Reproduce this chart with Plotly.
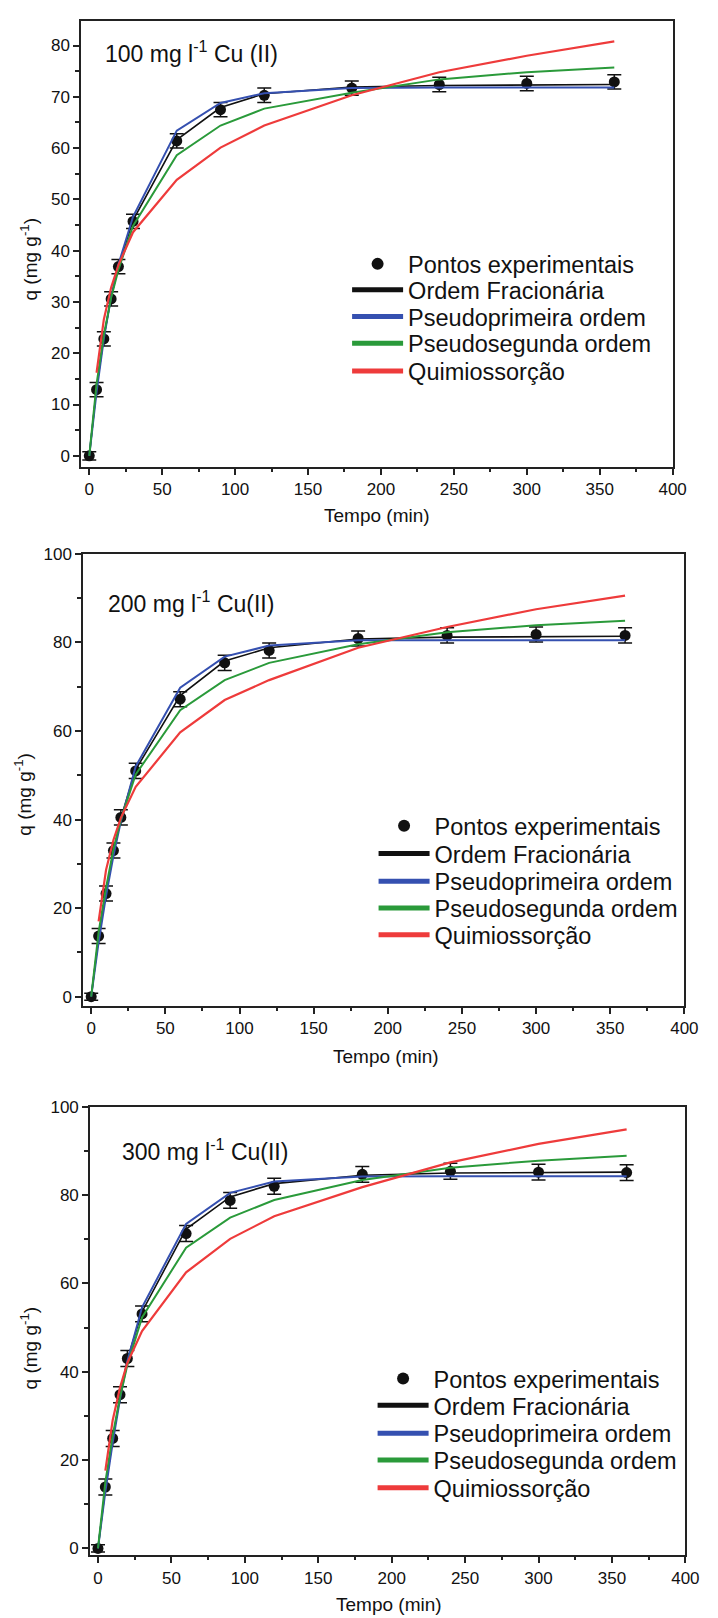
import plotly.graph_objects as go

# ---------------- data ----------------
tempo = [0, 5, 10, 15, 20, 30, 60, 90, 120, 180, 240, 300, 360]
tempo_quim = [5, 10, 15, 20, 30, 60, 90, 120, 180, 240, 300, 360]

# 100 mg/L
exp_100 = [0, 12.9, 22.8, 30.6, 36.9, 45.7, 61.4, 67.5, 70.3, 71.7, 72.4, 72.6, 72.9]
err_100 = [0.8, 1.4, 1.4, 1.4, 1.4, 1.4, 1.4, 1.4, 1.4, 1.4, 1.4, 1.4, 1.4]
frac_100 = [0, 13.2, 23.2, 30.9, 37.0, 45.9, 61.6, 67.9, 70.6, 71.9, 72.2, 72.3, 72.4]
pfo_100 = [0, 12.4, 22.8, 31.0, 37.3, 46.6, 63.4, 68.8, 70.7, 71.7, 71.8, 71.8, 71.8]
pso_100 = [0, 14.0, 23.6, 30.8, 36.3, 44.8, 58.6, 64.4, 67.7, 70.8, 73.4, 74.8, 75.7]
quim_100 = [16.2, 26.6, 32.8, 37.2, 43.6, 53.8, 60.1, 64.4, 70.3, 74.8, 78.0, 80.8]

# 200 mg/L
exp_200 = [0, 13.7, 23.3, 33.0, 40.5, 51.0, 67.2, 75.4, 78.2, 80.9, 81.6, 81.8, 81.6]
err_200 = [0.8, 1.7, 1.7, 1.7, 1.7, 1.7, 1.7, 1.7, 1.7, 1.7, 1.7, 1.7, 1.7]
frac_200 = [0, 13.5, 23.6, 32.6, 40.3, 51.3, 68.0, 75.8, 78.8, 80.8, 81.2, 81.3, 81.4]
pfo_200 = [0, 12.3, 22.8, 31.8, 39.6, 52.0, 69.8, 76.8, 79.3, 80.5, 80.5, 80.5, 80.5]
pso_200 = [0, 14.6, 24.6, 33.3, 40.0, 50.2, 64.7, 71.5, 75.4, 79.6, 82.3, 83.9, 84.9]
quim_200 = [17.0, 28.6, 35.4, 40.4, 47.4, 59.7, 67.0, 71.5, 78.8, 83.5, 87.5, 90.6]

# 300 mg/L
exp_300 = [0, 13.9, 24.9, 34.8, 43.0, 53.1, 71.3, 78.8, 82.0, 84.7, 85.4, 85.2, 85.1]
err_300 = [0.8, 1.8, 1.8, 1.8, 1.8, 1.8, 1.8, 1.8, 1.8, 1.8, 1.8, 1.8, 1.8]
frac_300 = [0, 13.6, 24.6, 34.5, 42.8, 53.6, 72.3, 79.6, 82.6, 84.5, 85.0, 85.1, 85.2]
pfo_300 = [0, 12.8, 23.9, 33.8, 42.4, 54.6, 73.5, 80.5, 83.1, 84.2, 84.3, 84.3, 84.3]
pso_300 = [0, 15.0, 25.6, 34.2, 41.5, 52.3, 68.1, 74.9, 78.9, 83.4, 86.2, 87.8, 88.9]
quim_300 = [17.6, 29.0, 36.4, 42.0, 49.2, 62.5, 70.1, 75.2, 81.8, 87.4, 91.6, 94.9]

labels = ["Pontos experimentais", "Ordem Fracionária", "Pseudoprimeira ordem",
          "Pseudosegunda ordem", "Quimiossorção"]
titles = ["100 mg l<sup>-1</sup> Cu (II)", "200 mg l<sup>-1</sup> Cu(II)", "300 mg l<sup>-1</sup> Cu(II)"]
x_ticks = [0, 50, 100, 150, 200, 250, 300, 350, 400]

# ---------------- layout geometry (pixels) ----------------
W, H = 718, 1618
FONT = "Liberation Sans, Arial, sans-serif"
TXT = "#111111"
COLORS = ["#111111", "#3550b0", "#2a9a3a", "#ee3b3b"]

panels = [
    dict(exp=exp_100, err=err_100, models=[frac_100, pfo_100, pso_100], quim=quim_100,
         px=(83, 686), py=(12, 461), xr=[-5.4, 400], yr=[-2.1, 84.8], ydt=10, ymin=5,
         ann=(105, 43), xt=(385, 510), yt=(30, 252), leg_x=354, leg_y=[257, 283, 310, 337, 365]),
    dict(exp=exp_200, err=err_200, models=[frac_200, pfo_200, pso_200], quim=quim_200,
         px=(85, 698), py=(549, 1004), xr=[-5.3, 400], yr=[-2.0, 100], ydt=20, ymin=10,
         ann=(108, 597), xt=(394, 1055), yt=(24, 791), leg_x=381, leg_y=[823, 851, 879, 906, 933]),
    dict(exp=exp_300, err=err_300, models=[frac_300, pfo_300, pso_300], quim=quim_300,
         px=(92, 699), py=(1106, 1558), xr=[-5.3, 400], yr=[-1.6, 100], ydt=20, ymin=10,
         ann=(122, 1150), xt=(397, 1607), yt=(30, 1349), leg_x=380, leg_y=[1380, 1407, 1435, 1462, 1490]),
]

fig = go.Figure()
annotations = []
layout = {}

for i, p in enumerate(panels):
    sfx = "" if i == 0 else str(i + 1)
    xa, ya = "x" + sfx, "y" + sfx
    leg_ids = []
    for j in range(5):
        n = i * 5 + j + 1
        leg_ids.append("legend" if n == 1 else f"legend{n}")

    # experimental points
    fig.add_trace(go.Scatter(
        x=tempo, y=p["exp"], mode="markers", name=labels[0], showlegend=True,
        marker=dict(color="#111111", size=11),
        error_y=dict(type="data", array=p["err"], color="#111111", thickness=1.5, width=7),
        xaxis=xa, yaxis=ya, legend=leg_ids[0]))
    # model curves
    for k, m in enumerate(p["models"]):
        fig.add_trace(go.Scatter(
            x=tempo, y=m, mode="lines", name=labels[k + 1], showlegend=True,
            line=dict(color=COLORS[k], width=2 if k else 1.6),
            xaxis=xa, yaxis=ya, legend=leg_ids[k + 1]))
    fig.add_trace(go.Scatter(
        x=tempo_quim, y=p["quim"], mode="lines", name=labels[4], showlegend=True,
        line=dict(color=COLORS[3], width=2.2),
        xaxis=xa, yaxis=ya, legend=leg_ids[4]))

    # legends (one per entry to control row spacing)
    for j in range(5):
        layout[leg_ids[j]] = dict(
            x=p["leg_x"] / W, y=1 - p["leg_y"][j] / H, xanchor="left", yanchor="middle",
            bgcolor="rgba(0,0,0,0)", borderwidth=0, itemwidth=51, itemsizing="constant",
            visible=True, font=dict(family=FONT, size=23.5, color=TXT))

    axis_common = dict(showline=True, linewidth=2, linecolor="#222222", mirror=True,
                       showgrid=False, zeroline=False, ticks="outside", ticklen=6,
                       tickwidth=1.5, tickcolor="#222222",
                       tickfont=dict(family=FONT, size=17, color=TXT))
    layout["xaxis" + sfx] = dict(
        axis_common, domain=[p["px"][0] / W, p["px"][1] / W], range=p["xr"],
        tickvals=x_ticks, anchor=ya,
        minor=dict(dtick=25, tick0=0, ticks="outside", ticklen=3, tickwidth=1.5, tickcolor="#222222"))
    layout["yaxis" + sfx] = dict(
        axis_common, domain=[1 - p["py"][1] / H, 1 - p["py"][0] / H], range=p["yr"],
        dtick=p["ydt"], tick0=0, anchor=xa,
        minor=dict(dtick=p["ymin"], tick0=0, ticks="outside", ticklen=4, tickwidth=1.5, tickcolor="#222222"))

    annotations.append(dict(text=titles[i], x=p["ann"][0] / W, y=1 - p["ann"][1] / H,
                            xref="paper", yref="paper", xanchor="left", yanchor="middle",
                            showarrow=False, font=dict(family=FONT, size=23, color=TXT)))
    annotations.append(dict(text="Tempo (min)", x=p["xt"][0] / W, y=1 - p["xt"][1] / H,
                            xref="paper", yref="paper", xanchor="center", yanchor="middle",
                            showarrow=False, font=dict(family=FONT, size=19, color=TXT)))
    annotations.append(dict(text="q (mg g<sup>-1</sup>)", x=p["yt"][0] / W, y=1 - p["yt"][1] / H,
                            xref="paper", yref="paper", xanchor="center", yanchor="middle",
                            textangle=-90, showarrow=False,
                            font=dict(family=FONT, size=19, color=TXT)))

fig.update_layout(
    width=W, height=H, margin=dict(l=0, r=0, t=0, b=0),
    paper_bgcolor="white", plot_bgcolor="white", showlegend=True,
    annotations=annotations, **layout)

fig.write_html("out.html")
